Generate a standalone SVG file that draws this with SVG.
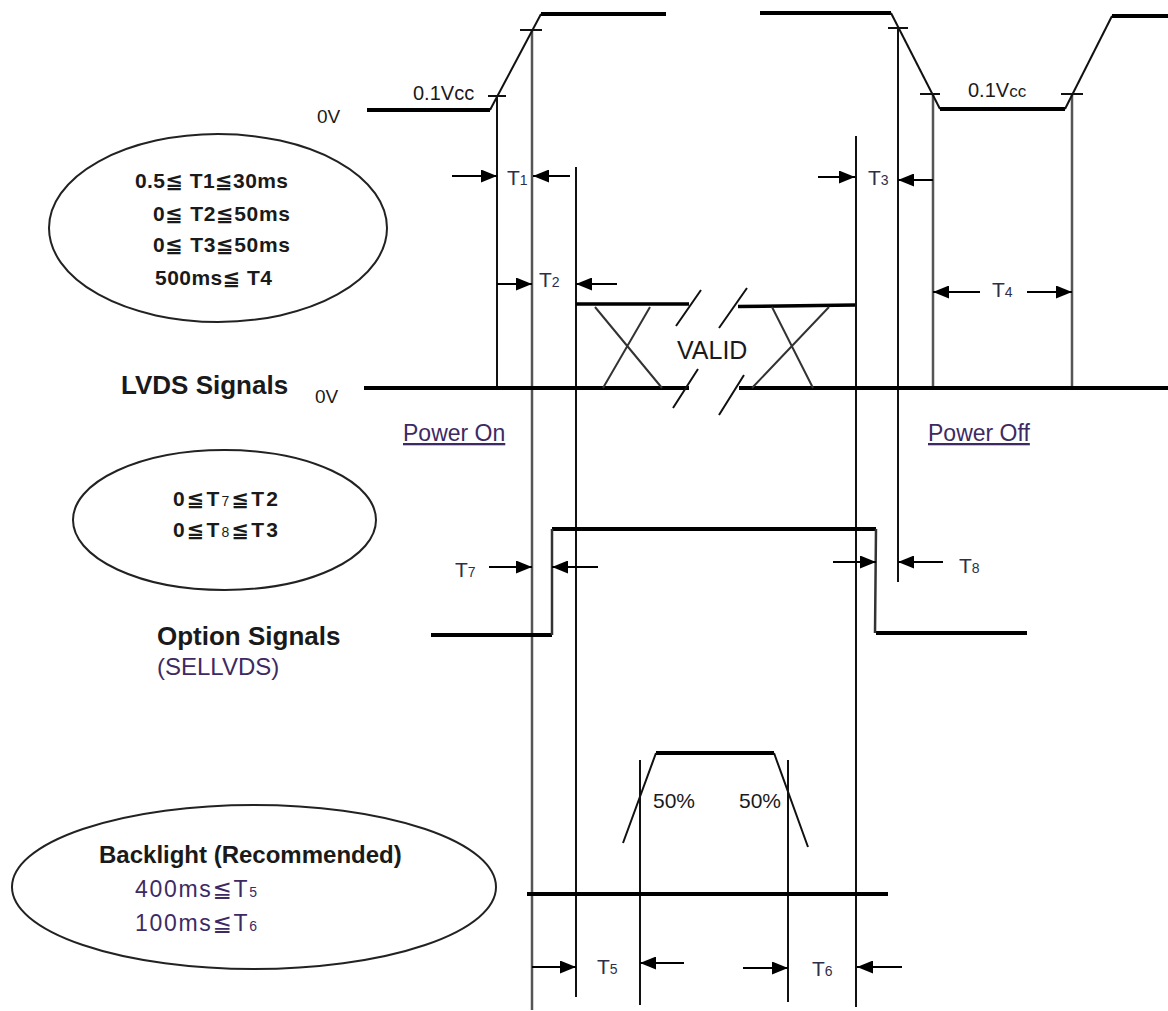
<svg xmlns="http://www.w3.org/2000/svg" width="1168" height="1011" viewBox="0 0 1168 1011">
<style>
text{font-family:"Liberation Sans",Arial,"DejaVu Sans","Noto Sans CJK JP",sans-serif;fill:#1a1a1a}
.b{font-weight:bold}
.lbl{font-size:21px;fill:#2e2e48}
.sub{font-size:14px}
.pur{fill:#3e2a62}
.sig{stroke:#000;stroke-width:4;fill:none;stroke-linecap:butt}
.thin{stroke:#111;stroke-width:2;fill:none}
.gray{stroke:#555;stroke-width:2.5;fill:none}
.arr{stroke:#000;stroke-width:2;fill:none;marker-end:url(#ah)}
.ell{fill:none;stroke:#222;stroke-width:2}
</style>
<defs>
<marker id="ah" markerUnits="userSpaceOnUse" markerWidth="16" markerHeight="13" refX="16" refY="6.5" orient="auto">
<path d="M0,0 L16,6.5 L0,13 z" fill="#000"/>
</marker>
</defs>
<rect width="1168" height="1011" fill="#fff"/>

<g id="guides">
<line class="thin" x1="497" y1="96" x2="497" y2="388"/>
<line class="gray" x1="532" y1="30" x2="532" y2="1010"/>
<line class="thin" x1="576" y1="167" x2="576" y2="997"/>
<line class="thin" x1="856" y1="136" x2="856" y2="1007"/>
<line class="thin" x1="898" y1="28" x2="898" y2="582"/>
<line class="gray" x1="933" y1="94" x2="933" y2="388"/>
<line class="gray" x1="1072" y1="94" x2="1072" y2="388"/>
<line class="thin" x1="640" y1="760" x2="640" y2="1005"/>
<line class="thin" x1="788" y1="760" x2="788" y2="1002"/>
</g>

<g id="power-signal">
<path class="sig" d="M367,110 H490"/>
<path class="thin" d="M490,110 L541,14"/>
<path class="sig" d="M541,14 H666"/>
<path class="sig" d="M760,13 H891"/>
<path class="thin" d="M891,13 L940,109"/>
<path class="sig" d="M940,109 H1065"/>
<path class="thin" d="M1065,109 L1112,16"/>
<path class="sig" d="M1112,16 H1168"/>
<path class="thin" d="M488,96 H506 M520,30 H542 M888,28 H908 M920,94 H940 M1061,94 H1083"/>
<text x="413" y="100" style="font-size:20px" fill="#3a3a50">0.1Vcc</text>
<text x="968" y="97" style="font-size:20px" fill="#3a3a50">0.1V<tspan style="font-size:17px">cc</tspan></text>
<text x="317" y="123" style="font-size:19px">0V</text>
</g>

<g id="lvds-signal">
<path class="sig" d="M364,388 H689 M739,388 H1168"/>
<path class="sig" style="stroke-width:3.5" d="M576,304 H689 M738,306.5 L855,305"/>
<path class="thin" style="stroke:#333" d="M595,307 L662,388 M650,307 L603,388 M772,307 L813,388 M829,307 L752,388"/>
<path class="thin" d="M676,326 L701,290 M719,328 L747,288 M673,408 L698,369 M719,415 L744,375"/>
<text x="677" y="359" style="font-size:25px" fill="#2a2a44">VALID</text>
<text class="b" x="121" y="394" style="font-size:26px">LVDS Signals</text>
<text x="315" y="403" style="font-size:19px">0V</text>
<text class="pur" x="403" y="441" style="font-size:23px" text-decoration="underline">Power On</text>
<text class="pur" x="928" y="441" style="font-size:23px" text-decoration="underline">Power Off</text>
</g>

<g id="option-signal">
<path class="sig" d="M431,635 H552 M552,529 H876 M876,633 H1027"/>
<path class="gray" style="stroke:#333" d="M552,635 V529 M876,529 L875,633"/>
<text class="b" x="157" y="645" style="font-size:26px">Option Signals</text>
<text class="pur" x="157" y="675" style="font-size:24px">(SELLVDS)</text>
</g>

<g id="backlight-signal">
<path class="sig" d="M527,894 H888"/>
<path class="sig" d="M656,753 H774"/>
<path class="thin" d="M623,843 L656,753 M774,753 L808,847"/>
<text x="653" y="808" style="font-size:21px" fill="#3a3a50">50%</text>
<text x="739" y="808" style="font-size:21px" fill="#3a3a50">50%</text>
</g>

<g id="timing-labels">
<text class="lbl" x="507" y="185">T<tspan class="sub">1</tspan></text>
<text class="lbl" x="539" y="287">T<tspan class="sub">2</tspan></text>
<text class="lbl" x="868" y="185">T<tspan class="sub">3</tspan></text>
<text class="lbl" x="992" y="297">T<tspan class="sub">4</tspan></text>
<text class="lbl" x="597" y="974">T<tspan class="sub">5</tspan></text>
<text class="lbl" x="812" y="976">T<tspan class="sub">6</tspan></text>
<text class="lbl" x="455" y="577">T<tspan class="sub">7</tspan></text>
<text class="lbl" x="959" y="573">T<tspan class="sub">8</tspan></text>
</g>

<g id="connectors">
<line class="arr" x1="452" y1="176" x2="497" y2="176"/>
<line class="arr" x1="570" y1="176" x2="533" y2="176"/>
<line class="arr" x1="497" y1="284" x2="532" y2="284"/>
<line class="arr" x1="617" y1="284" x2="576" y2="284"/>
<line class="arr" x1="818" y1="177" x2="855" y2="177"/>
<line class="arr" x1="933" y1="180" x2="898" y2="180"/>
<line class="arr" x1="980" y1="292" x2="933" y2="292"/>
<line class="arr" x1="1027" y1="292" x2="1072" y2="292"/>
<line class="arr" x1="489" y1="567" x2="532" y2="567"/>
<line class="arr" x1="598" y1="567" x2="552" y2="567"/>
<line class="arr" x1="833" y1="562" x2="876" y2="562"/>
<line class="arr" x1="943" y1="562" x2="898" y2="562"/>
<line class="arr" x1="532" y1="967" x2="576" y2="967"/>
<line class="arr" x1="684" y1="963" x2="640" y2="963"/>
<line class="arr" x1="743" y1="968" x2="788" y2="968"/>
<line class="arr" x1="902" y1="967" x2="857" y2="967"/>
</g>

<g id="note-power">
<ellipse class="ell" cx="218" cy="228" rx="169" ry="94"/>
<text class="b" x="135" y="188" style="font-size:21px" textLength="153">0.5≦ T1≦30ms</text>
<text class="b" x="153" y="221" style="font-size:21px" textLength="137">0≦ T2≦50ms</text>
<text class="b" x="153" y="252" style="font-size:21px" textLength="137">0≦ T3≦50ms</text>
<text class="b" x="155" y="285" style="font-size:21px" textLength="117">500ms≦ T4</text>
</g>

<g id="note-option">
<ellipse class="ell" cx="224.5" cy="520" rx="151.5" ry="70"/>
<text class="b" x="173" y="506" style="font-size:21px" textLength="105">0≦T<tspan class="sub" style="font-weight:normal">7</tspan>≦T2</text>
<text class="b" x="173" y="537" style="font-size:21px" textLength="105">0≦T<tspan class="sub" style="font-weight:normal">8</tspan>≦T3</text>
</g>

<g id="note-backlight">
<ellipse class="ell" cx="254" cy="887" rx="242" ry="82"/>
<text class="b" x="99" y="863" style="font-size:24px">Backlight (Recommended)</text>
<text class="pur" x="135" y="897" style="font-size:23px" textLength="122">400ms≦T<tspan class="sub">5</tspan></text>
<text class="pur" x="135" y="931" style="font-size:23px" textLength="122">100ms≦T<tspan class="sub">6</tspan></text>
</g>
</svg>
